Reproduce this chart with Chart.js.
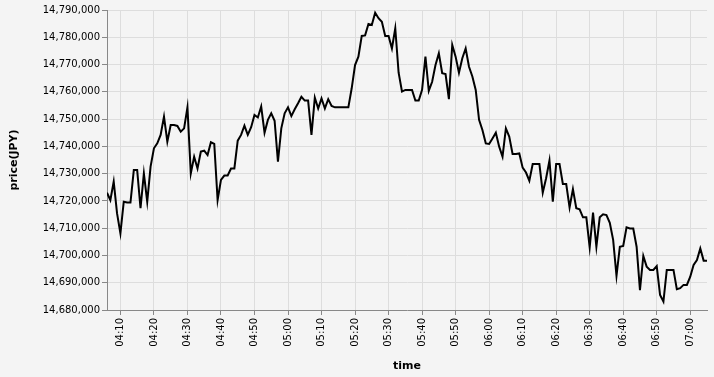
<!DOCTYPE html>
<html>
<head>
<meta charset="utf-8">
<script src="https://cdn.jsdelivr.net/npm/chart.js@4.4.1/dist/chart.umd.min.js"></script>
<style>
  html, body { margin: 0; padding: 0; background: #f4f4f4; }
  #wrap { width: 714px; height: 377px; }
</style>
</head>
<body>
<div id="wrap"><canvas id="myChart" width="714" height="377"></canvas></div>
<script>
// first sample time, one price per minute after it
const startTime = '04:06';

const prices = [
  14723000, 14720300, 14727100, 14715400,
  14708100, 14719700, 14719400, 14719400, 14731300, 14731300, 14717300, 14730100, 14719700, 14732600,
  14739300, 14741100, 14744200, 14750900, 14741700, 14747800, 14747800, 14747500, 14745400, 14746600,
  14754300, 14730100, 14736200, 14731900, 14738100, 14738400, 14736800, 14741500, 14740900, 14720300,
  14727700, 14729300, 14729300, 14731900, 14731900, 14742100, 14744200, 14747600, 14744200, 14747000,
  14751500, 14750600, 14754600, 14745000, 14749700, 14752100, 14749400, 14734400, 14746600, 14752100,
  14754300, 14751100, 14753600, 14755800, 14758200, 14756800, 14756800, 14744200, 14757900, 14753900,
  14757600, 14753900, 14757300, 14754800, 14754300, 14754300, 14754300, 14754300, 14754300, 14761300,
  14769800, 14772900, 14780500, 14780700, 14784900, 14784500, 14789000, 14787000, 14785700, 14780500,
  14780500, 14775900, 14783300, 14767000, 14760100, 14760700, 14760700, 14760700, 14756800, 14756800,
  14760700, 14772900, 14760400, 14763700, 14769800, 14774100, 14766800, 14766500, 14757300, 14777200,
  14772900, 14767000, 14772300, 14775900, 14769200, 14765600, 14760700, 14749700, 14746000, 14741100,
  14740900, 14742900, 14745000, 14739900, 14736200, 14746600, 14743600, 14737200, 14737200, 14737400,
  14732200, 14730400, 14727400, 14733500, 14733500, 14733500, 14723000, 14728300, 14734800, 14719700,
  14733500, 14733500, 14726200, 14726200, 14717600, 14724300, 14717300, 14716900, 14714000, 14714000,
  14703000, 14715700, 14703200, 14714000, 14715100, 14714800, 14712000, 14705700, 14692500, 14703200,
  14703500, 14710300, 14709900, 14709900, 14703200, 14687300, 14699800, 14695900, 14694700, 14694700,
  14696100, 14685500, 14683100, 14694700, 14694700, 14694700, 14687600, 14688000, 14689200, 14689200,
  14692200, 14696500, 14698300, 14702600, 14698100, 14698100
];

const timeTicks = ['04:10','04:20','04:30','04:40','04:50','05:00','05:10','05:20','05:30',
  '05:40','05:50','06:00','06:10','06:20','06:30','06:40','06:50','07:00'];

const yMin = 14680000, yMax = 14790000, yStep = 10000;

function toMin(s){
  const p = s.split(':');
  return parseInt(p[0]) * 60 + parseInt(p[1]);
}
function toLabel(m){
  const h = Math.floor(m / 60), mm = m % 60;
  return String(h).padStart(2,'0') + ':' + String(mm).padStart(2,'0');
}

const t0 = toMin(startTime);
const points = prices.map((p, i) => ({x: t0 + i, y: p}));

Chart.defaults.font.family = 'DejaVu Sans';
Chart.defaults.font.size = 10;
Chart.defaults.color = '#000';

const ctx = document.getElementById('myChart').getContext('2d');
const myChart = new Chart(ctx, {
  type: 'line',
  data: {
    datasets: [{
      data: points,
      borderColor: '#000',
      borderWidth: 2,
      pointRadius: 0,
      tension: 0,
      fill: false
    }]
  },
  options: {
    responsive: false,
    animation: false,
    layout: { padding: { left: 0, top: 10, right: 7, bottom: 0 } },
    plugins: { legend: { display: false }, tooltip: { enabled: false } },
    scales: {
      x: {
        type: 'linear',
        min: points[0].x,
        max: points[points.length - 1].x,
        afterBuildTicks: s => { s.ticks = timeTicks.map(l => ({value: toMin(l)})); },
        afterFit: s => { s.height = 67; },
        ticks: {
          autoSkip: false,
          minRotation: 90,
          maxRotation: 90,
          padding: 3,
          callback: v => toLabel(v)
        },
        grid: { color: '#dddddd', tickColor: '#888888', tickLength: 5 },
        border: { color: '#888888' },
        title: {
          display: true,
          text: 'time',
          font: { size: 11, weight: 'bold' },
          padding: { top: 0, bottom: 4 }
        }
      },
      y: {
        min: yMin,
        max: yMax,
        afterFit: s => { s.width = 107; },
        ticks: {
          stepSize: yStep,
          padding: 2,
          callback: v => v.toLocaleString('en-US')
        },
        grid: { color: '#dddddd', tickColor: '#888888', tickLength: 5 },
        border: { color: '#888888' },
        title: {
          display: true,
          text: 'price(JPY)',
          font: { size: 11, weight: 'bold' },
          padding: { top: 8, bottom: 0 }
        }
      }
    }
  }
});
</script>
</body>
</html>
